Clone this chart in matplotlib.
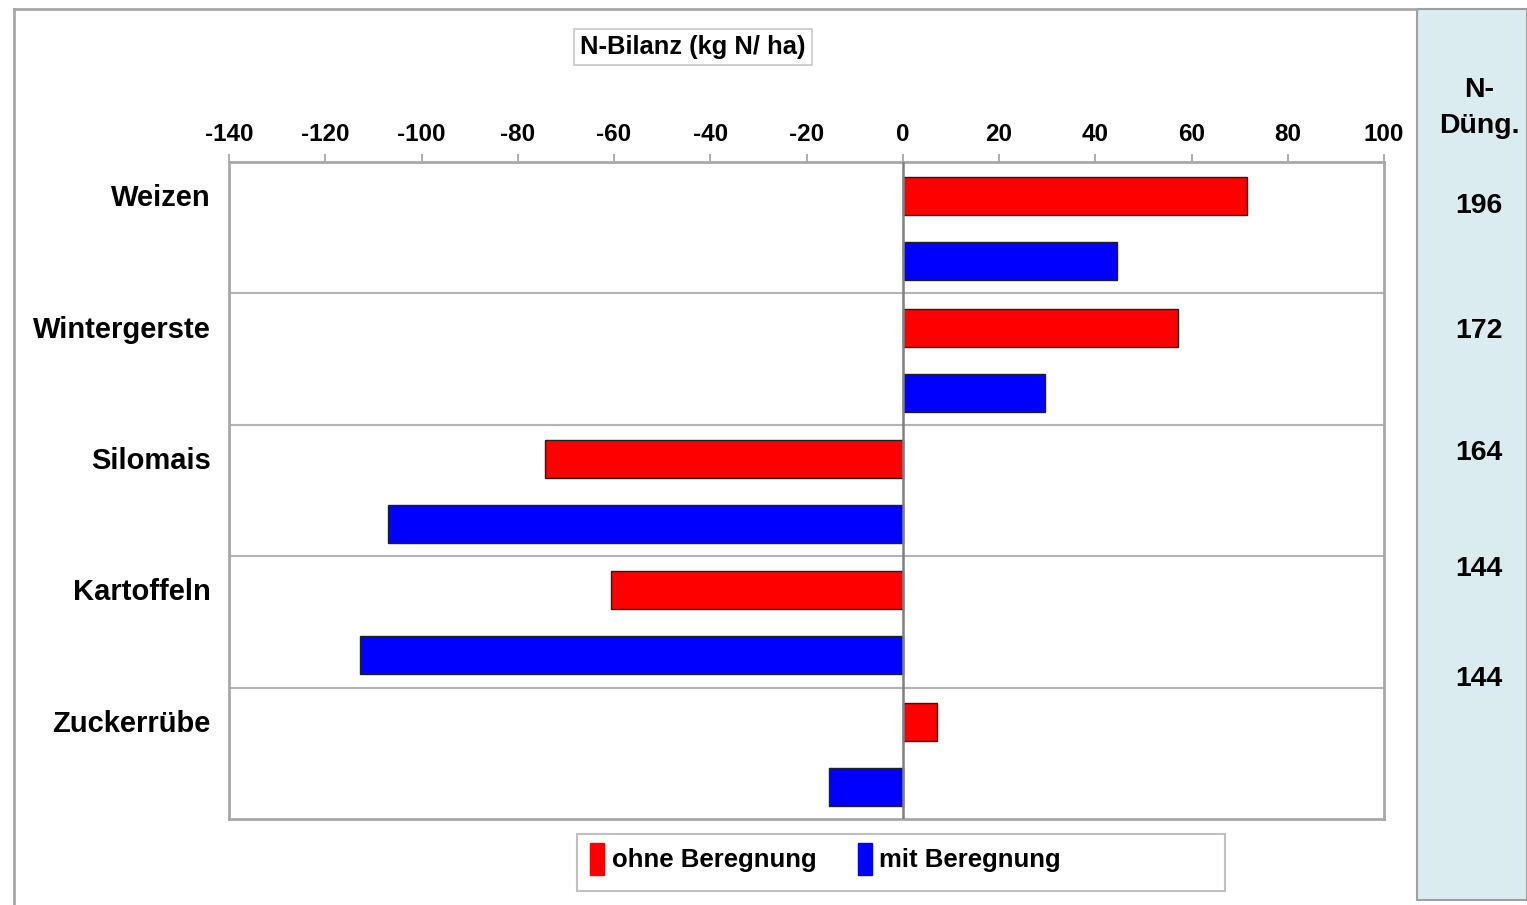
import matplotlib
matplotlib.use("Agg")
import matplotlib.pyplot as plt
from matplotlib.patches import Rectangle, Patch
from matplotlib.lines import Line2D
import numpy as np

plt.rcParams['font.family'] = ['Liberation Sans', 'DejaVu Sans']
plt.rcParams['font.weight'] = 'bold'

categories = ["Weizen", "Wintergerste", "Silomais", "Kartoffeln", "Zuckerrübe"]
ohne_beregnung = [71.5, 57.2, -74.3, -60.6, 7.1]
mit_beregnung = [44.5, 29.6, -107.0, -112.8, -15.4]
n_duengung = ["196", "172", "164", "144", "144"]
n_duengung_y = [206, 331, 453, 569, 679]  # pixel rows of right-panel labels
xticks = list(range(-140, 101, 20))
series_names = ["ohne Beregnung", "mit Beregnung"]
colors = ["#ff0000", "#0000ff"]

W, H = 1527, 905
fig = plt.figure(figsize=(W / 100, H / 100), dpi=100)
fig.patch.set_facecolor("white")

def fx(px):
    return px / W

def fy(py):
    return 1 - py / H

# outer frame lines
fig.add_artist(Line2D([fx(14), fx(1417)], [fy(9), fy(9)], color="#a8a8a8", lw=2.0))
fig.add_artist(Line2D([fx(14), fx(14)], [fy(9), fy(905)], color="#a8a8a8", lw=2.0))

# right panel
fig.add_artist(Rectangle((fx(1417), fy(900)), fx(1527) - fx(1417), fy(9) - fy(900),
                         transform=fig.transFigure, facecolor="#daecef",
                         edgecolor="#a0a0a0", lw=1.5))
fig.text(fx(1479), fy(90), "N-", ha="center", va="center", fontsize=20.5, fontweight="bold")
fig.text(fx(1479), fy(126), "Düng.", ha="center", va="center", fontsize=20.5, fontweight="bold")
for lab, py in zip(n_duengung, n_duengung_y):
    fig.text(fx(1479), fy(py), lab, ha="center", va="center", fontsize=20.5, fontweight="bold")

# axes
ax = fig.add_axes([fx(229), fy(819), fx(1384) - fx(229), fy(162) - fy(819)])
n = len(categories)
idx = np.arange(n)
red_pos = idx + 0.26
blue_pos = idx + 0.755
bh = 0.29
ax.barh(red_pos, ohne_beregnung, height=bh, color=colors[0], edgecolor="#202020", lw=1.0, zorder=3)
ax.barh(blue_pos, mit_beregnung, height=bh, color=colors[1], edgecolor="#202020", lw=1.0, zorder=3)

ax.set_xlim(-140, 100)
ax.set_ylim(n, 0)
ax.xaxis.tick_top()
ax.set_xticks(xticks)
ax.set_xticklabels([str(t) for t in xticks], fontsize=17.5, fontweight="bold")
ax.tick_params(axis="x", direction="out", length=6, width=1.2, color="#a0a0a0", pad=5.5)
ax.set_yticks(red_pos - 0.008)
ax.set_yticklabels(categories, fontsize=21, fontweight="bold")
ax.tick_params(axis="y", length=0, pad=13)
for s in ax.spines.values():
    s.set_color("#a8a8a8")
    s.set_linewidth(2.0)
for k in range(1, n):
    ax.axhline(k, color="#b4b4b4", lw=1.5, zorder=1)
ax.axvline(0, color="#808080", lw=1.8, zorder=4)

# title box
fig.text(fx(693), fy(47), "N-Bilanz (kg N/ ha)", ha="center", va="center", fontsize=18.4,
         fontweight="bold",
         bbox=dict(boxstyle="square,pad=0.25", facecolor="white", edgecolor="#c8c8c8", lw=1.2))

# legend box
fig.add_artist(Rectangle((fx(577), fy(891)), fx(1225) - fx(577), fy(834) - fy(891),
                         transform=fig.transFigure, facecolor="white",
                         edgecolor="#c0c0c0", lw=1.5))
handles = [Patch(facecolor=c, edgecolor=c) for c in colors]
fig.legend(handles, series_names, loc="center left", bbox_to_anchor=(fx(590), fy(859)),
           ncol=2, frameon=False, prop={"weight": "bold", "size": 18.5},
           handlelength=0.55, handleheight=1.5, handletextpad=0.3, columnspacing=1.6,
           borderaxespad=0, borderpad=0)

fig.savefig("out.png", dpi=100)
